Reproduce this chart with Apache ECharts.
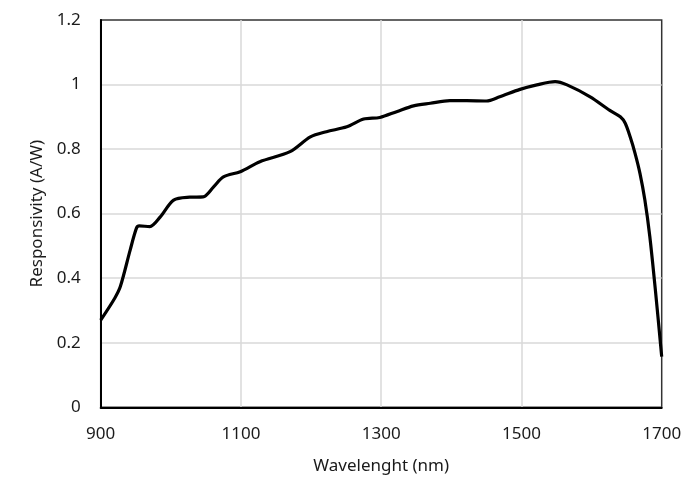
<!DOCTYPE html>
<html>
<head>
<meta charset="utf-8">
<script src="https://cdn.jsdelivr.net/npm/echarts@6/dist/echarts.min.js"></script>
<style>
  html, body { margin: 0; padding: 0; background: #fff; }
  #chart { width: 700px; height: 502px; }
</style>
</head>
<body>
<div id="chart"></div>
<script>
// wavelength (nm) and responsivity (A/W)
var wavelengths = [900, 920, 928, 942, 951, 955, 970, 985, 1004, 1027, 1046, 1061, 1075, 1099,
  1127, 1170, 1199, 1222, 1251, 1275, 1298, 1322, 1346, 1370, 1398, 1422, 1450, 1469,
  1498, 1522, 1548, 1565, 1598, 1626, 1641, 1648, 1655, 1662, 1669, 1676, 1683, 1691, 1700];
var responsivity = [0.27, 0.338, 0.374, 0.487, 0.555, 0.562, 0.56, 0.59, 0.642, 0.651, 0.652, 0.683, 0.714, 0.73,
  0.761, 0.792, 0.838, 0.854, 0.869, 0.893, 0.898, 0.916, 0.934, 0.942, 0.95, 0.95, 0.949, 0.962,
  0.985, 0.999, 1.009, 0.999, 0.962, 0.92, 0.9, 0.88, 0.838, 0.787, 0.725, 0.642, 0.53, 0.363, 0.157];
var xTicks = [900, 1100, 1300, 1500, 1700];
var yTicks = [0, 0.2, 0.4, 0.6, 0.8, 1, 1.2];

var points = wavelengths.map(function (w, i) {
  return [w, responsivity[i]];
});

var myChart = echarts.init(document.getElementById("chart"));
var font = "'Noto Sans', 'Open Sans', sans-serif";
var option = {
  backgroundColor: "#ffffff",
  animation: false,
  grid: {
    left: 100.7,
    right: 38.3,
    top: 20,
    bottom: 94.7,
    show: true,
    borderColor: "#333",
    borderWidth: 1.5,
  },
  xAxis: {
    type: "value",
    min: xTicks[0],
    max: xTicks[xTicks.length - 1],
    interval: 200,
    name: "Wavelenght (nm)",
    nameLocation: "middle",
    nameGap: 50,
    nameTextStyle: { fontFamily: font, fontSize: 17, color: "#1a1a1a" },
    axisLine: { show: true, lineStyle: { color: "#000", width: 2 } },
    axisTick: { show: false },
    axisLabel: {
      margin: 18,
      fontFamily: font,
      fontSize: 17,
      color: "#1a1a1a",
      formatter: function (v) {
        return String(v);
      },
    },
    splitLine: {
      show: true,
      showMinLine: false,
      showMaxLine: false,
      lineStyle: { color: "#d9d9d9", width: 1.5 },
    },
  },
  yAxis: {
    type: "value",
    min: yTicks[0],
    max: yTicks[yTicks.length - 1],
    interval: 0.2,
    name: "Responsivity (A/W)",
    nameLocation: "middle",
    nameGap: 55,
    nameTextStyle: { fontFamily: font, fontSize: 17, color: "#1a1a1a" },
    axisLine: { show: true, lineStyle: { color: "#000", width: 2 } },
    axisTick: { show: false },
    axisLabel: { margin: 20, fontFamily: font, fontSize: 17, color: "#1a1a1a" },
    splitLine: {
      show: true,
      showMinLine: false,
      showMaxLine: false,
      lineStyle: { color: "#d9d9d9", width: 1.5 },
    },
  },
  series: [
    {
      type: "line",
      data: points,
      smooth: 0.3,
      showSymbol: false,
      lineStyle: { color: "#000", width: 3.2 },
    },
  ],
};
myChart.setOption(option);
</script>
</body>
</html>
